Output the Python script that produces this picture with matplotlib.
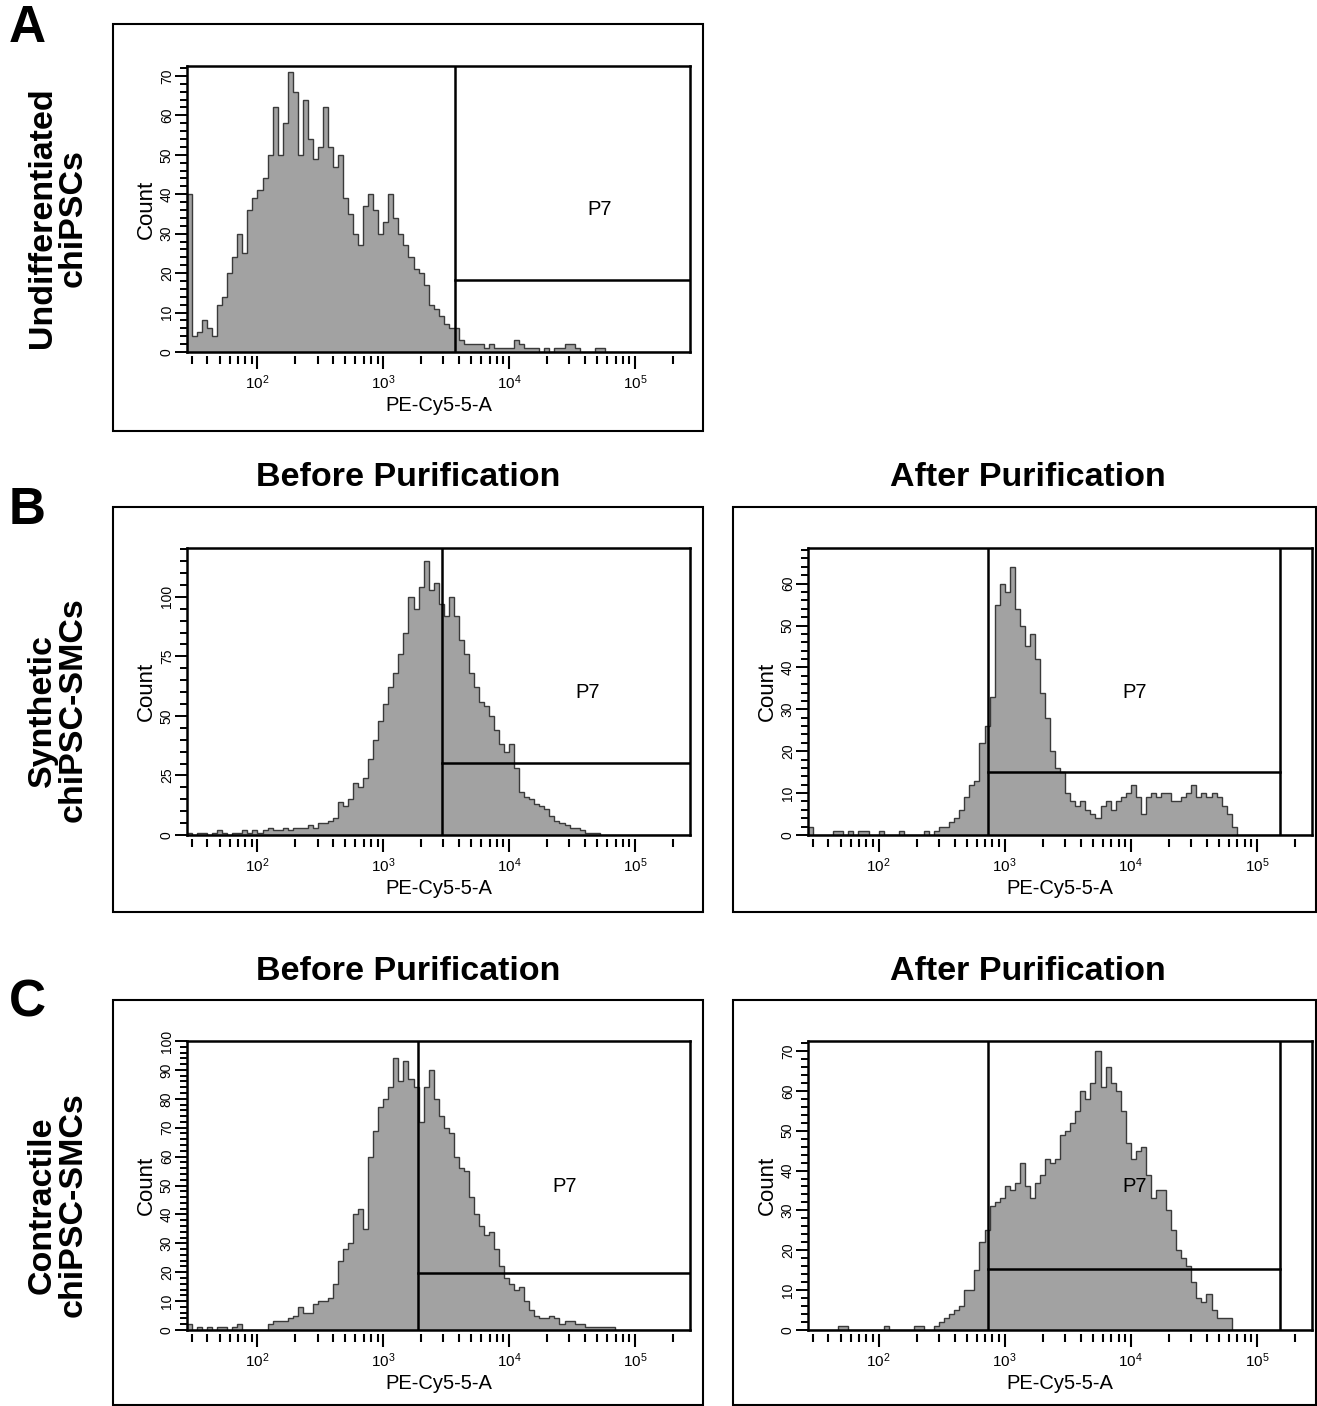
import matplotlib
matplotlib.use("Agg")
import matplotlib.pyplot as plt
import numpy as np
from matplotlib.patches import Rectangle
from matplotlib.ticker import FixedLocator, NullFormatter, MultipleLocator

plt.rcParams['font.family'] = ['Liberation Sans', 'DejaVu Sans']
plt.rcParams['mathtext.fontset'] = 'custom'
plt.rcParams['mathtext.rm'] = 'Liberation Sans'

# histogram channels: 100 bins of 0.04 decade, starting at 10^1.44
log_start = 1.44
log_step = 0.04

# A - undifferentiated chiPSCs
undiff_counts = [
    40, 4, 5, 8, 6, 4, 12, 14, 20, 24,
    30, 25, 36, 39, 41, 44, 50, 62, 50, 58,
    71, 66, 50, 64, 54, 49, 52, 62, 52, 47,
    50, 39, 35, 30, 27, 37, 40, 36, 30, 33,
    40, 34, 30, 27, 24, 21, 20, 17, 12, 11,
    9, 7, 6, 6, 3, 2, 2, 2, 2, 1,
    2, 1, 1, 1, 1, 3, 2, 1, 1, 1,
    0, 1, 0, 1, 1, 2, 2, 1, 0, 0,
    0, 1, 1, 0, 0, 0, 0, 0, 0, 0,
    0, 0, 0, 0, 0, 0, 0, 0, 0, 0,
]
# B - synthetic chiPSC-SMCs, before / after purification
syn_before_counts = [
    1, 0, 1, 1, 0, 1, 2, 1, 0, 1,
    1, 2, 1, 2, 1, 2, 3, 2, 2, 3,
    2, 3, 3, 3, 4, 3, 5, 5, 6, 7,
    14, 12, 15, 22, 20, 24, 32, 40, 48, 55,
    62, 68, 76, 85, 100, 95, 104, 115, 103, 106,
    97, 92, 100, 92, 82, 76, 68, 62, 56, 54,
    50, 44, 38, 35, 38, 28, 18, 16, 15, 13,
    12, 11, 8, 6, 5, 4, 3, 3, 2, 1,
    1, 1, 0, 0, 0, 0, 0, 0, 0, 0,
    0, 0, 0, 0, 0, 0, 0, 0, 0, 0,
]
syn_after_counts = [
    2, 0, 0, 0, 0, 1, 1, 0, 1, 0,
    1, 1, 0, 0, 1, 0, 0, 0, 1, 0,
    0, 0, 0, 1, 0, 1, 2, 2, 3, 4,
    6, 9, 12, 13, 22, 26, 33, 55, 60, 58,
    64, 54, 50, 45, 48, 42, 34, 28, 20, 16,
    15, 10, 8, 7, 8, 6, 5, 4, 7, 8,
    6, 8, 9, 10, 12, 9, 5, 9, 10, 9,
    10, 10, 8, 8, 9, 10, 12, 9, 10, 9,
    10, 9, 7, 5, 2, 0, 0, 0, 0, 0,
    0, 0, 0, 0, 0, 0, 0, 0, 0, 0,
]
# C - contractile chiPSC-SMCs, before / after purification
con_before_counts = [
    2, 0, 1, 0, 1, 0, 1, 1, 0, 1,
    2, 0, 0, 0, 0, 0, 2, 3, 3, 3,
    4, 5, 8, 6, 6, 9, 10, 10, 11, 16,
    24, 28, 30, 40, 42, 35, 60, 69, 77, 80,
    84, 94, 86, 93, 87, 84, 72, 84, 90, 80,
    74, 70, 68, 60, 56, 55, 46, 40, 36, 33,
    34, 28, 22, 18, 16, 14, 15, 10, 7, 5,
    4, 4, 5, 4, 2, 3, 3, 2, 2, 1,
    1, 1, 1, 1, 1, 0, 0, 0, 0, 0,
    0, 0, 0, 0, 0, 0, 0, 0, 0, 0,
]
con_after_counts = [
    0, 0, 0, 0, 0, 0, 1, 1, 0, 0,
    0, 0, 0, 0, 0, 1, 0, 0, 0, 0,
    0, 1, 1, 0, 0, 1, 2, 3, 4, 5,
    6, 10, 10, 15, 22, 25, 31, 32, 33, 36,
    35, 37, 42, 36, 33, 37, 39, 43, 42, 43,
    49, 50, 52, 55, 60, 58, 62, 70, 61, 66,
    62, 60, 55, 47, 43, 45, 46, 39, 33, 35,
    35, 30, 25, 20, 18, 16, 12, 8, 7, 9,
    5, 3, 3, 3, 0, 0, 0, 0, 0, 0,
    0, 0, 0, 0, 0, 0, 0, 0, 0, 0,
]

# P7 gates: (left edge, lower edge, right edge or None = open)
undiff_gate = (3720, 18.2, None)
syn_before_gate = (2940, 30.2, None)
syn_after_gate = (733, 15.0, 1.52e5)
con_before_gate = (1900, 19.8, None)
con_after_gate = (733, 15.2, 1.52e5)

x_major = [1e2, 1e3, 1e4, 1e5]
x_major_labels = [r'$\mathregular{10^{2}}$', r'$\mathregular{10^{3}}$',
                  r'$\mathregular{10^{4}}$', r'$\mathregular{10^{5}}$']

W, H = 1317, 1406
fig = plt.figure(figsize=(W / 100, H / 100), dpi=100)


def px_axes(l, t, r, b):
    return fig.add_axes([l / W, 1 - b / H, (r - l) / W, (b - t) / H])


def px_box(l, t, r, b):
    fig.add_artist(Rectangle((l / W, 1 - b / H), (r - l) / W, (b - t) / H,
                             transform=fig.transFigure, fill=False,
                             lw=1.5, ec='black'))


def draw_panel(ax, counts, ymax, major, minor, gate, p7_xy, ax_h_px):
    edges = 10 ** (log_start + log_step * np.arange(len(counts) + 1))
    ax.stairs(counts, edges, fill=True, facecolor='#a2a2a2',
              edgecolor='none', zorder=1)
    ax.stairs(counts, edges, fill=False, edgecolor='#3a3a3a', lw=1.0, zorder=2)
    ax.set_xscale('log')
    xmax = 10 ** 5.437
    ax.set_xlim(10 ** 1.44, xmax)
    ax.set_ylim(0, ymax)

    g_lo, g_y, g_hi = gate
    right = g_hi if g_hi else xmax
    ax.plot([g_lo, g_lo], [0, ymax], color='black', lw=1.8, zorder=3)
    if g_hi:
        ax.plot([g_hi, g_hi], [0, ymax], color='black', lw=1.8, zorder=3)
    ax.plot([g_lo, right], [g_y, g_y], color='black', lw=1.8, zorder=3)
    ax.text(p7_xy[0], p7_xy[1], 'P7', transform=ax.transAxes,
            fontsize=14.5, ha='center', va='center', zorder=4)

    for s in ax.spines.values():
        s.set_linewidth(1.8)

    ax.tick_params(axis='x', which='both', bottom=False, labelbottom=False)
    ax.yaxis.set_major_locator(MultipleLocator(major))
    ax.yaxis.set_minor_locator(MultipleLocator(minor))
    ax.tick_params(axis='y', which='major', length=8.5, width=1.4,
                   labelsize=10, labelrotation=90, pad=1)
    ax.tick_params(axis='y', which='minor', length=5, width=1.4)
    for lab in ax.get_yticklabels():
        lab.set_va('center')
    ax.set_ylabel('Count', fontsize=16, labelpad=2)

    sec = ax.secondary_xaxis(-4 / ax_h_px)
    sec.set_xticks(x_major, x_major_labels)
    minor_ticks = [m * 10 ** d for d in range(1, 6) for m in range(2, 10)
                   if 30 <= m * 10 ** d <= 2.1e5]
    sec.xaxis.set_minor_locator(FixedLocator(minor_ticks))
    sec.xaxis.set_minor_formatter(NullFormatter())
    sec.tick_params(which='major', length=9.5, width=1.5, labelsize=11, pad=3)
    sec.tick_params(which='minor', length=6, width=1.5)
    sec.spines['bottom'].set_visible(False)
    sec.set_xlabel('PE-Cy5-5-A', fontsize=14.5, labelpad=3)


# outer frames
px_box(113, 24, 703, 431)
px_box(113, 507, 703, 912)
px_box(733, 507, 1316, 912)
px_box(113, 1000, 703, 1405)
px_box(733, 1000, 1316, 1405)

ax_a = px_axes(187, 66, 690, 352)
draw_panel(ax_a, undiff_counts, 72.5, 10, 2, undiff_gate, (0.821, 0.497), 286)

ax_b1 = px_axes(187, 548, 690, 835)
draw_panel(ax_b1, syn_before_counts, 120.5, 25, 5, syn_before_gate, (0.797, 0.498), 287)

ax_b2 = px_axes(808, 548, 1312, 835)
draw_panel(ax_b2, syn_after_counts, 68.5, 10, 2, syn_after_gate, (0.649, 0.498), 287)

ax_c1 = px_axes(187, 1041, 690, 1330)
draw_panel(ax_c1, con_before_counts, 100, 10, 2, con_before_gate, (0.751, 0.495), 289)

ax_c2 = px_axes(808, 1041, 1312, 1330)
draw_panel(ax_c2, con_after_counts, 72.5, 10, 2, con_after_gate, (0.649, 0.495), 289)

# titles, panel letters, row labels
for y in (478, 972):
    fig.text(408 / W, 1 - y / H, 'Before Purification', fontsize=24.5,
             fontweight='bold', ha='center', va='center')
    fig.text(1028 / W, 1 - y / H, 'After Purification', fontsize=24.5,
             fontweight='bold', ha='center', va='center')

for letter, y in (('A', 28), ('B', 510), ('C', 1003)):
    fig.text(27 / W, 1 - y / H, letter, fontsize=37, fontweight='bold',
             ha='center', va='center')

for label, y in (('Undifferentiated\nchiPSCs', 218),
                 ('Synthetic\nchiPSC-SMCs', 710),
                 ('Contractile\nchiPSC-SMCs', 1205)):
    fig.text(58 / W, 1 - y / H, label, fontsize=24.5, fontweight='bold',
             rotation=90, ha='center', va='center', multialignment='center',
             linespacing=1.0)

fig.savefig('out.png', dpi=100, facecolor='white')
